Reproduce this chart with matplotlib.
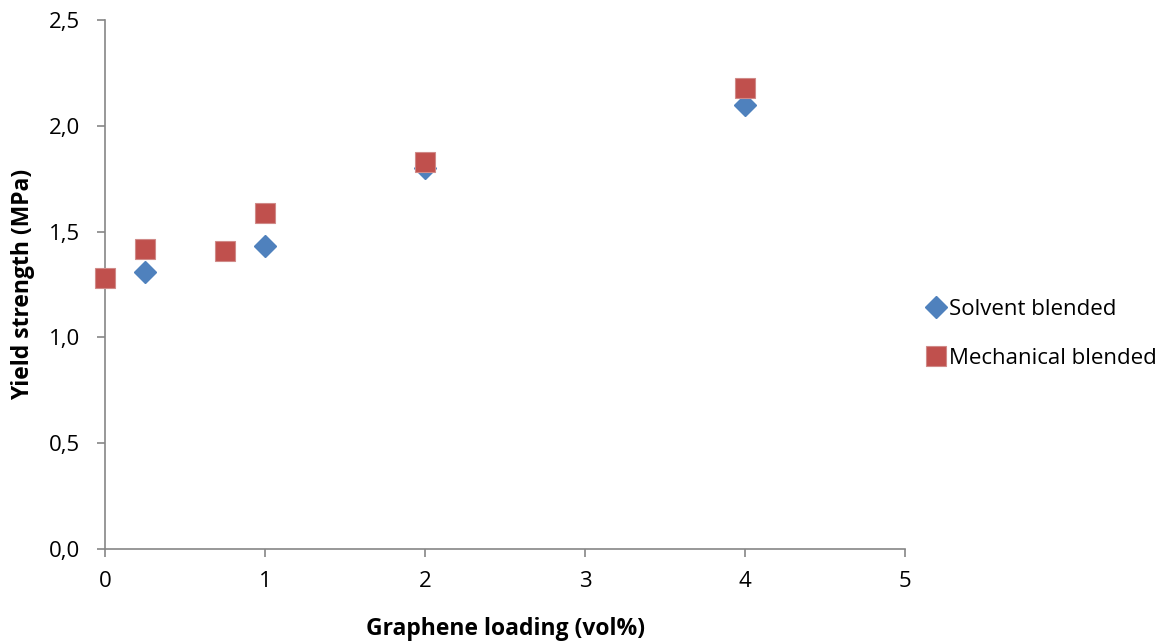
import matplotlib
matplotlib.use('Agg')
import matplotlib.pyplot as plt

plt.rcParams['font.family'] = ['Open Sans', 'DejaVu Sans']

# Data
solvent_x = [0.25, 1, 2, 4]
solvent_y = [1.31, 1.43, 1.80, 2.10]
mech_x = [0, 0.25, 0.75, 1, 2, 4]
mech_y = [1.28, 1.42, 1.41, 1.59, 1.83, 2.18]

x_ticks = [0, 1, 2, 3, 4, 5]
y_ticks = [0.0, 0.5, 1.0, 1.5, 2.0, 2.5]
y_tick_labels = ['0,0', '0,5', '1,0', '1,5', '2,0', '2,5']

blue = '#4F81BD'
red = '#C0504D'
axis_grey = '#868686'

fig = plt.figure(figsize=(11.72, 6.41), dpi=100)
ax = fig.add_axes([105 / 1172, 1 - 549 / 641, 800 / 1172, 529 / 641])

ax.plot(solvent_x, solvent_y, linestyle='none', marker='D', markersize=11,
        color=blue, markeredgecolor=blue, label='Solvent blended',
        clip_on=False, zorder=3)
ax.plot(mech_x, mech_y, linestyle='none', marker='s', markersize=14,
        color=red, markeredgecolor='#D08A88', markeredgewidth=0.8,
        label='Mechanical blended', clip_on=False, zorder=4)

ax.set_xlim(0, 5)
ax.set_ylim(0, 2.5)
ax.set_xticks(x_ticks)
ax.set_yticks(y_ticks)
ax.set_yticklabels(y_tick_labels)

for side in ['top', 'right']:
    ax.spines[side].set_visible(False)
for side in ['left', 'bottom']:
    ax.spines[side].set_color(axis_grey)
    ax.spines[side].set_linewidth(1.2)

ax.tick_params(axis='both', direction='out', length=6, width=1.2,
               color=axis_grey, labelsize=16, labelcolor='black')
ax.tick_params(axis='x', pad=10)
ax.tick_params(axis='y', pad=12)

ax.set_xlabel('Graphene loading (vol%)', fontsize=16.5, fontweight='bold',
              labelpad=18)
ax.set_ylabel('Yield strength (MPa)', fontsize=16.5, fontweight='bold',
              labelpad=10)

fig.legend(loc='center left', bbox_to_anchor=(916 / 1172, 1 - 334 / 641),
           frameon=False, fontsize=16, handletextpad=0.1,
           labelspacing=1.25, borderaxespad=0, handlelength=1.0)

fig.savefig('out.png', dpi=100)
plt.close(fig)
